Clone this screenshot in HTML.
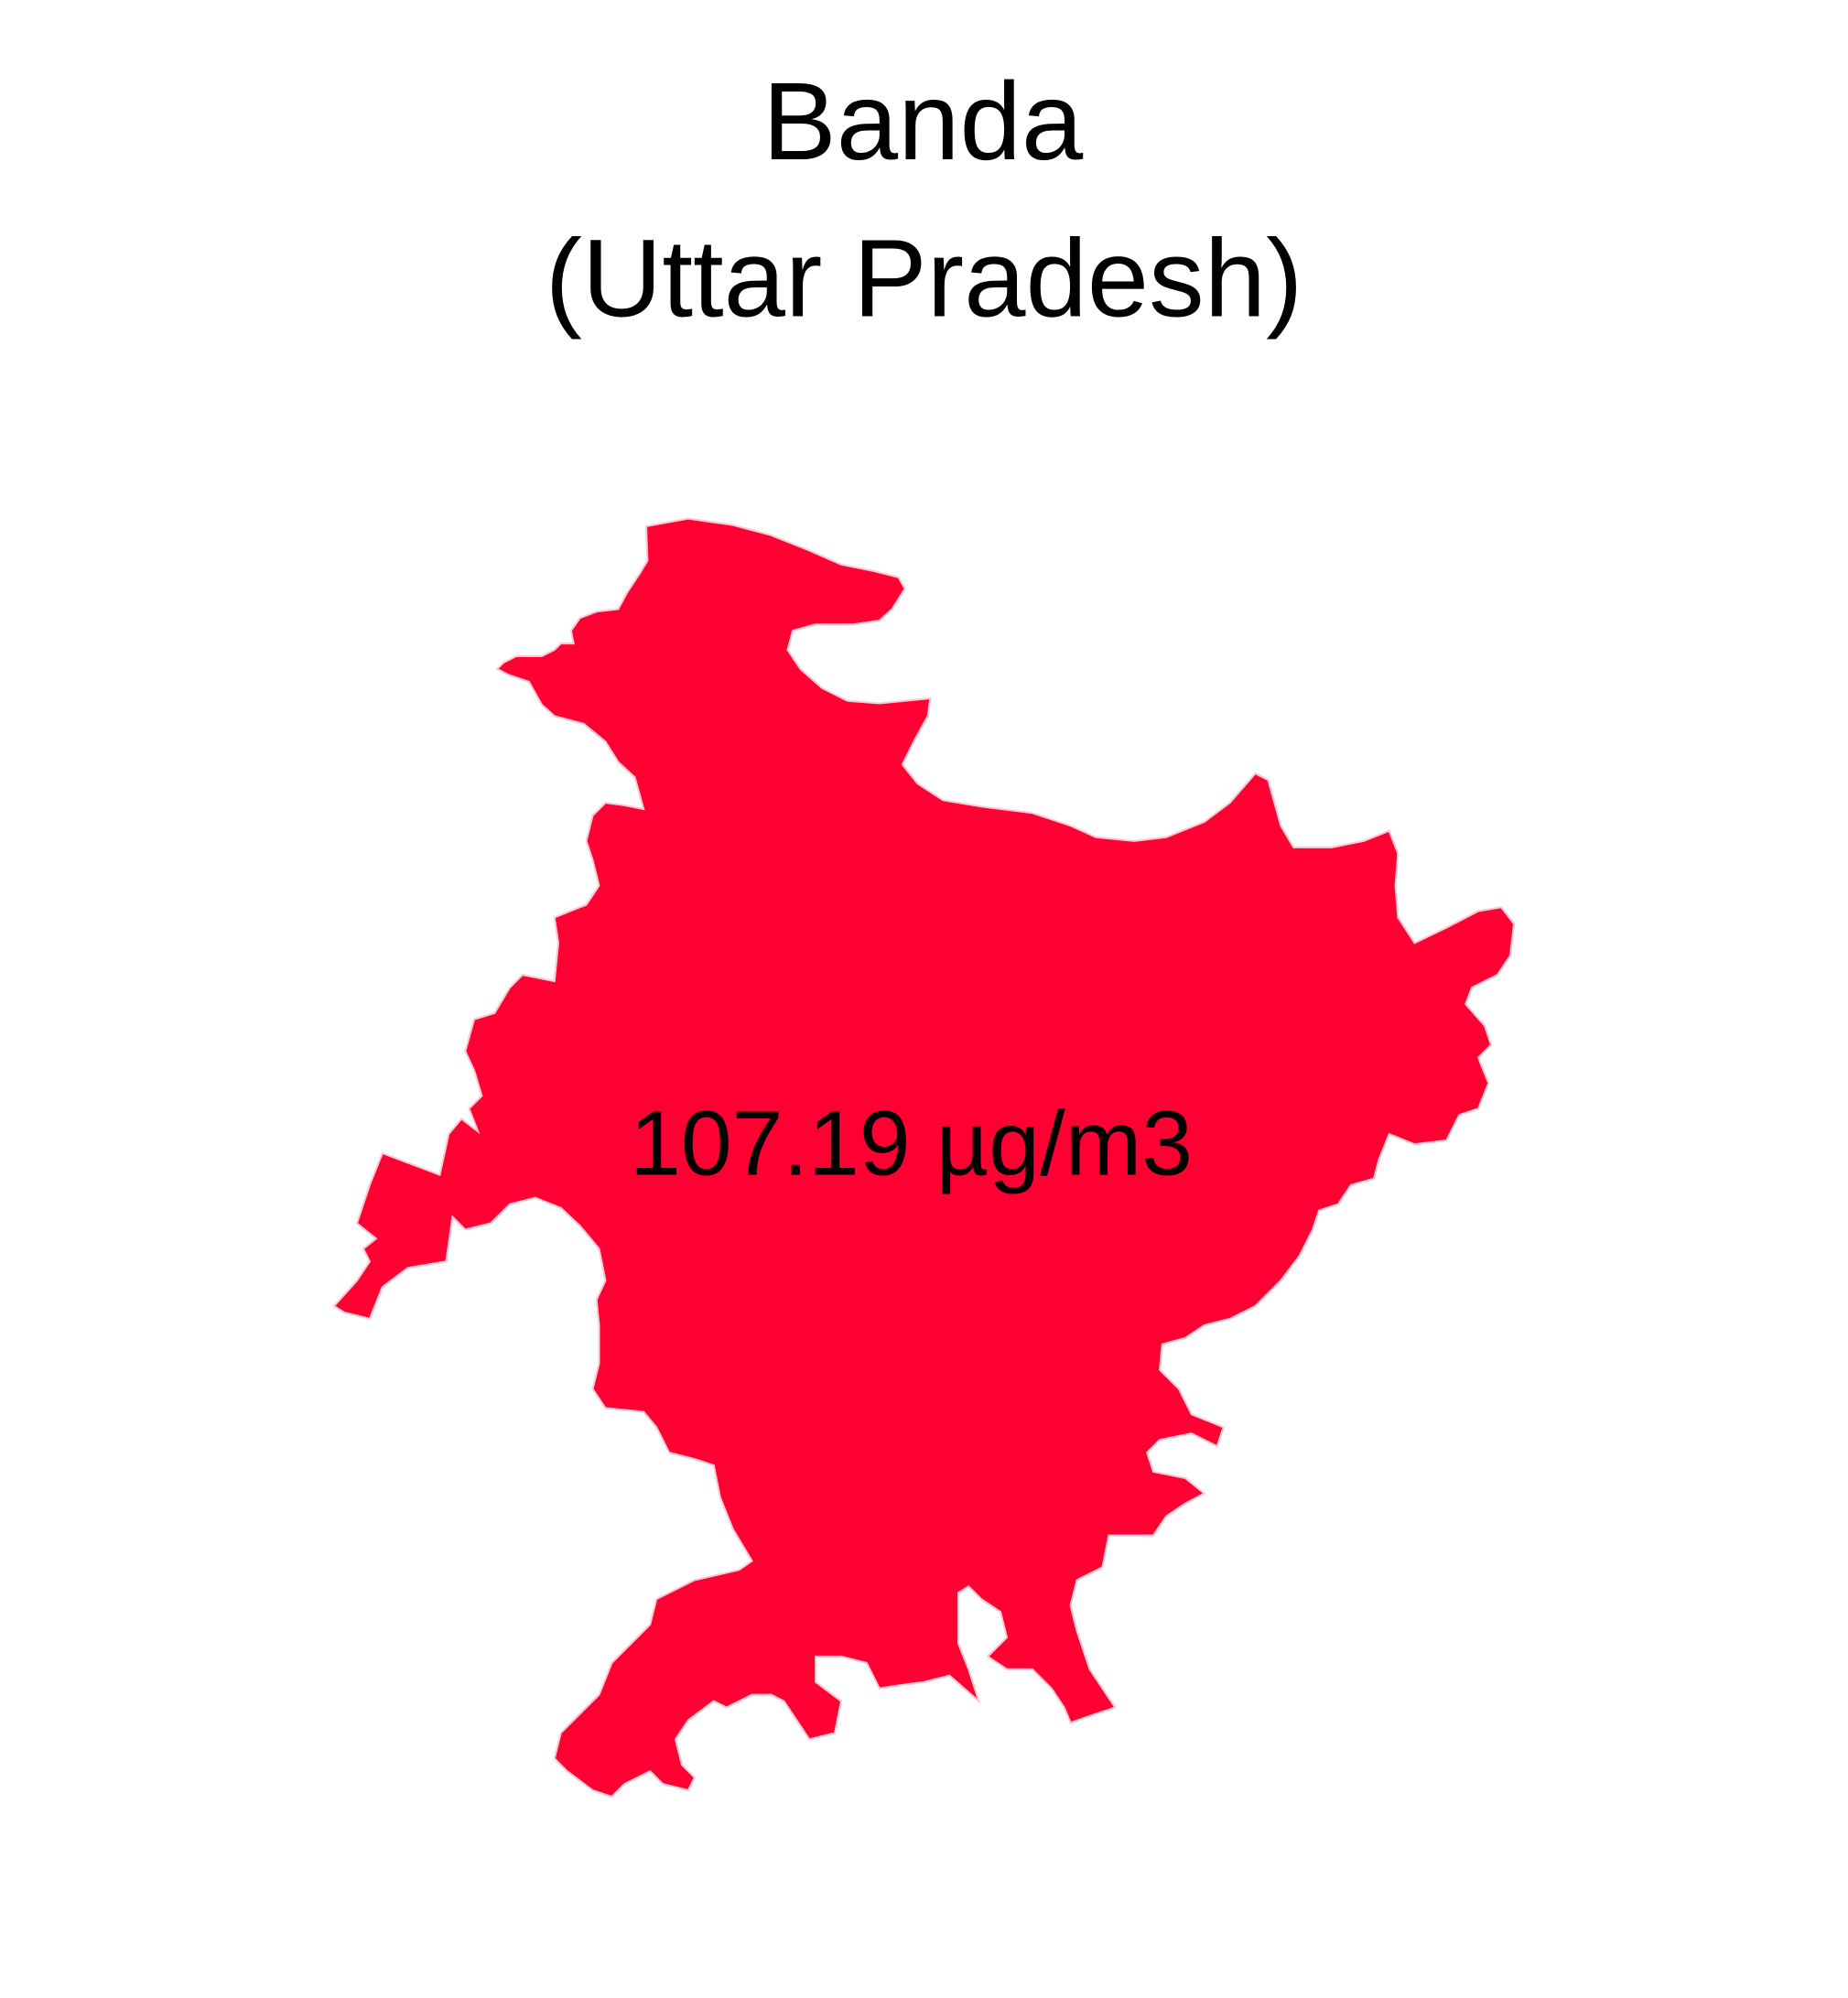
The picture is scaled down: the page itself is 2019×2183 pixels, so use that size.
<!DOCTYPE html>
<html><head><meta charset="utf-8"><style>
html,body{margin:0;padding:0;background:#fff;}
svg{display:block;}
</style></head><body>
<svg width="2019" height="2183" viewBox="0 0 1450 1568">
<rect width="1450" height="1568" fill="#fff"/>
<text x="724" y="125" text-anchor="middle" font-family="Liberation Sans, sans-serif" font-size="87" fill="#000">Banda</text>
<text x="725" y="248" text-anchor="middle" font-family="Liberation Sans, sans-serif" font-size="87" fill="#000">(Uttar Pradesh)</text>
<polygon fill="#FF0033" stroke="#f6c9d3" stroke-width="1.5" points="507,413 540,407 575,412 605,420 635,432 660,443 685,448 705,453 710,462 700,478 690,487 670,490 640,490 622,495 618,510 628,525 645,540 665,550 690,552 730,548 728,562 718,580 708,600 720,615 740,628 770,633 810,638 840,648 860,657 890,660 915,657 945,645 965,630 985,607 995,612 1000,630 1005,648 1015,665 1045,665 1070,660 1090,652 1097,670 1095,695 1097,720 1110,740 1135,728 1160,715 1178,712 1188,725 1185,750 1175,765 1155,775 1150,788 1165,805 1170,820 1160,830 1168,850 1160,870 1145,875 1135,895 1110,898 1090,890 1082,910 1078,925 1060,930 1050,945 1035,950 1030,965 1020,985 1005,1005 985,1025 965,1035 945,1040 930,1050 912,1055 910,1075 925,1090 935,1110 960,1120 955,1135 935,1125 910,1130 900,1140 905,1155 930,1160 945,1172 930,1180 915,1190 905,1205 870,1205 865,1230 845,1240 840,1260 845,1280 855,1310 865,1325 875,1340 860,1345 840,1352 835,1340 825,1325 810,1310 790,1310 775,1300 790,1285 785,1265 770,1255 760,1245 752,1250 752,1290 760,1310 768,1335 745,1315 725,1320 710,1322 690,1325 680,1305 660,1300 640,1300 640,1320 660,1335 655,1360 635,1365 625,1350 615,1335 605,1330 590,1330 570,1340 560,1335 540,1350 530,1365 535,1385 545,1395 540,1405 520,1400 510,1390 500,1395 490,1400 480,1410 465,1405 445,1390 435,1380 440,1360 455,1345 470,1330 480,1305 495,1290 510,1275 515,1255 545,1240 580,1232 590,1225 575,1200 565,1175 560,1150 545,1145 525,1140 515,1120 505,1108 475,1105 465,1090 470,1070 470,1040 468,1020 475,1005 470,980 455,962 440,948 420,940 400,945 385,960 365,965 355,955 350,990 320,995 300,1010 290,1035 270,1030 262,1025 280,1005 290,990 285,980 295,972 280,960 290,930 300,905 345,922 352,890 362,878 375,888 368,870 378,860 372,840 365,825 372,800 388,795 400,775 410,765 435,770 438,740 435,720 460,710 470,695 465,675 460,660 465,640 475,630 490,632 505,635 498,610 485,598 475,582 458,568 435,562 425,553 415,535 400,530 390,525 395,520 405,515 425,515 435,510 440,505 450,505 448,495 455,485 468,480 485,478 492,465 502,450 508,440"/>
<text x="715" y="922" text-anchor="middle" font-family="Liberation Sans, sans-serif" font-size="72" fill="#000">107.19 µg/m3</text>
</svg>
</body></html>
